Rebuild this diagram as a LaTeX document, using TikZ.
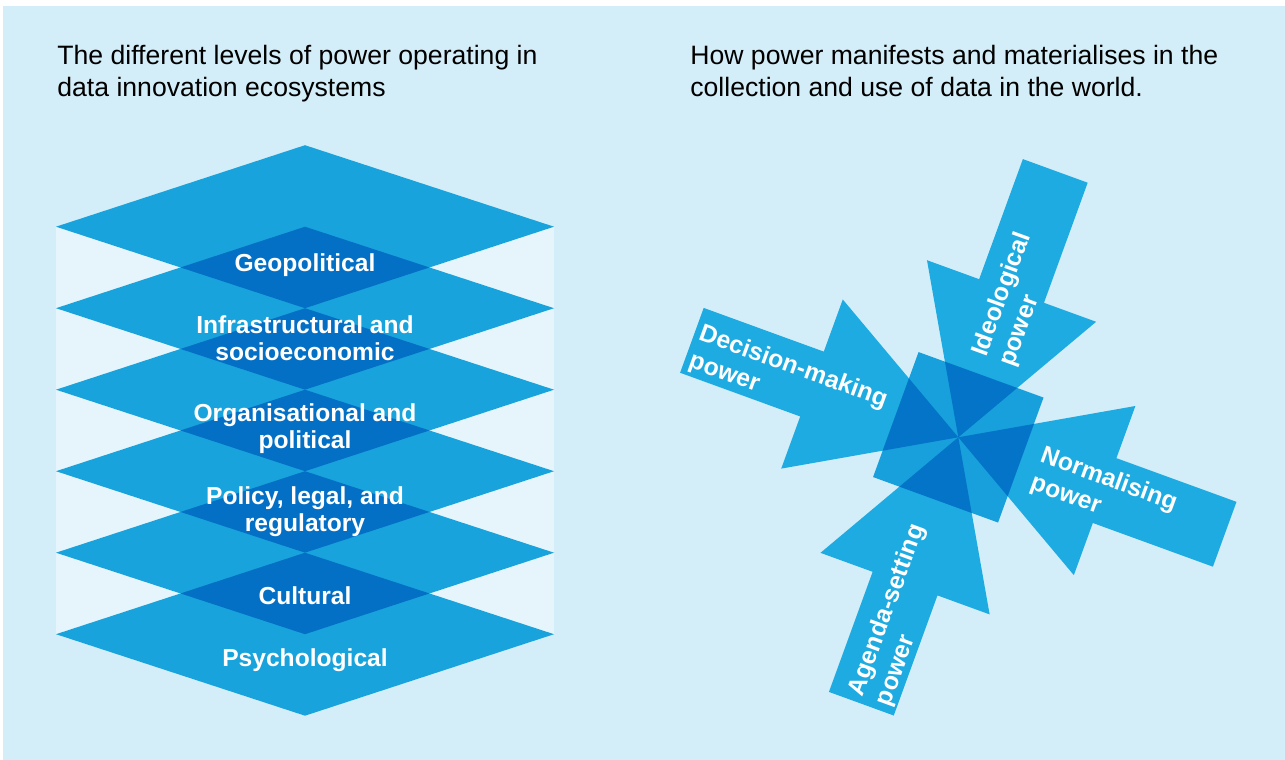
\documentclass[tikz,border=0pt]{standalone}
\usepackage{fontspec}
\setmainfont{Liberation Sans}
\definecolor{bgc}{HTML}{D3EEF8}
\definecolor{palec}{HTML}{E6F5FB}
\definecolor{diac}{HTML}{19A3DC}
\definecolor{darkc}{HTML}{0370C6}
\definecolor{arrc}{HTML}{1DABE2}
\definecolor{sqc}{HTML}{17A0DB}
\definecolor{sqdark}{HTML}{0374C8}
\begin{document}
\begin{tikzpicture}[x=0.5pt,y=-0.5pt,
  lbl/.style={text=white, font=\fontsize{12.3}{13.5}\selectfont\bfseries, align=center, inner sep=0pt},
  albl/.style={text=white, font=\fontsize{12.4}{14.6}\selectfont\bfseries, align=left, inner sep=0pt, anchor=west},
  ttl/.style={text=black, font=\fontsize{13.3}{16}\selectfont, align=left, inner sep=0pt, anchor=north west}]
\useasboundingbox (0,0) rectangle (1285,760);
\fill[white] (0,0) rectangle (1285,760);
\fill[bgc] (3,6) rectangle (1285,760);
% stack
\fill[palec] (56,226.7) rectangle (554,634.2);
\foreach \i in {0,...,5} {
  \pgfmathsetmacro\c{226.7+81.5*\i}
  \fill[diac] (305,\c-81.5) -- (554,\c) -- (305,\c+81.5) -- (56,\c) -- cycle;
}
\foreach \i in {0,...,4} {
  \pgfmathsetmacro\c{226.7+81.5*\i}
  \fill[darkc] (305,\c) -- (429.5,\c+40.75) -- (305,\c+81.5) -- (180.5,\c+40.75) -- cycle;
}
\node[lbl] (geo) at (305,265.5) {Geopolitical};
\node[lbl] (infra) at (305,338) {Infrastructural and\\socioeconomic};
\node[lbl] (org) at (305,428.5) {Organisational and\\political};
\node[lbl] (pol) at (305,511.5) {Policy, legal, and\\regulatory};
\node[lbl] (cult) at (305,595.5) {Cultural};
\node[lbl] (psy) at (305,660) {Psychological};
% arrows
\foreach \a in {-20,70,160,250}
  \fill[arrc, shift={(958.3,437.3)}, rotate=\a] (0,0) -- (-155.7,90) -- (-155.7,34.5) -- (-283.5,34.5) -- (-283.5,-34.5) -- (-155.7,-34.5) -- (-155.7,-90) -- cycle;
\fill[sqc, shift={(958.3,437.3)}, rotate=-20] (-66.5,-66.5) rectangle (66.5,66.5);
\begin{scope}[shift={(958.3,437.3)}, rotate=-20]
  \clip (-66.5,-66.5) rectangle (66.5,66.5);
  \foreach \a in {0,90,180,270}
    \fill[sqdark, rotate=\a] (0,0) -- (-155.7,90) -- (-155.7,-90) -- cycle;
\end{scope}
\node[albl, rotate=-20] (dm) at (694.5,347) {Decision-making\\power};
\node[albl, rotate=-20] (nm) at (1036,469) {Normalising\\power};
\node[albl, rotate=70] (id) at (993.6,360.7) {Ideological\\power};
\node[albl, rotate=70] (as) at (870.1,700.4) {Agenda-setting\\power};
% titles
\node[ttl] (t1) at (57,45) {The different levels of power operating in\\data innovation ecosystems};
\node[ttl] (t2) at (690,45) {How power manifests and materialises in the\\collection and use of data in the world.};
\end{tikzpicture}
\end{document}
